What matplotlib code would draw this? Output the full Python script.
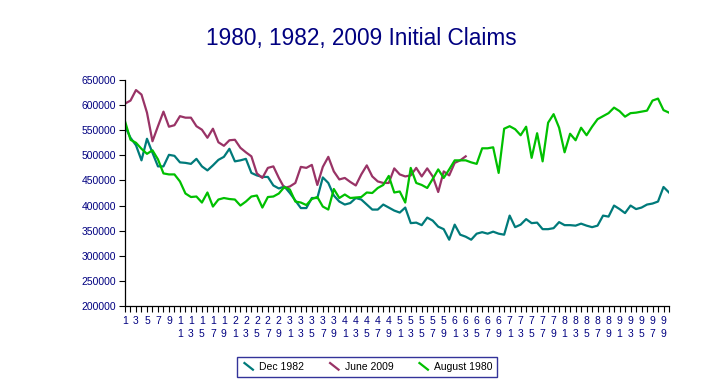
import matplotlib
matplotlib.use("Agg")
import matplotlib.pyplot as plt
from matplotlib.lines import Line2D
from matplotlib.legend_handler import HandlerBase
import numpy as np

# === DATOS (miles) ===
dec_1982 = [558, 535, 520, 490, 533, 505, 478, 478, 501, 499,
            486, 485, 483, 493, 478, 470, 480, 491, 497, 513,
            488, 490, 493, 465, 460, 457, 457, 440, 434, 438,
            425, 410, 395, 395, 415, 415, 456, 445, 420, 408,
            402, 405, 415, 412, 402, 392, 392, 402, 396, 390,
            386, 396, 365, 366, 361, 376, 370, 358, 353, 332,
            362, 342, 338, 332, 344, 347, 344, 348, 344, 342,
            380, 357, 362, 373, 365, 366, 353, 353, 355, 367,
            361, 361, 360, 364, 360, 357, 360, 380, 378, 400,
            393, 385, 400, 393, 396, 402, 404, 408, 437, 426]

june_2009 = [603, 609, 630, 621, 585, 528, 558, 587, 557, 560,
             578, 575, 575, 558, 551, 535, 553, 526, 519, 530,
             531, 515, 506, 498, 464, 455, 475, 478, 455, 435,
             438, 445, 477, 475, 481, 441, 477, 497, 468, 452,
             455, 447, 440, 462, 480, 458, 448, 445, 445, 474,
             462, 458, 460, 475, 458, 474, 458, 427, 468, 460,
             485, 490, 498]

aug_1980 = [568, 531, 525, 513, 503, 510, 492, 464, 462, 462,
            448, 424, 417, 418, 406, 426, 398, 412, 415, 413,
            412, 400, 408, 418, 420, 396, 417, 418, 424, 437,
            432, 408, 406, 401, 413, 417, 398, 392, 433, 415,
            422, 415, 416, 417, 426, 425, 435, 441, 459, 426,
            428, 406, 475, 445, 441, 435, 453, 472, 455, 472,
            490, 490, 490, 486, 483, 514, 514, 516, 465, 553,
            558, 552, 540, 557, 495, 544, 488, 565, 582, 555,
            506, 543, 530, 555, 540, 557, 572, 578, 584, 595,
            588, 577, 584, 585, 587, 589, 609, 613, 590, 585]

series_names = ["Dec 1982", "June 2009", "August 1980"]
colors = ["#007A7A", "#993366", "#00C000"]
navy = "#000080"


# manejador de leyenda con segmento diagonal (estilo Excel)
class DiagonalHandler(HandlerBase):
    def create_artists(self, legend, orig_handle, xdescent, ydescent,
                       width, height, fontsize, trans):
        line = Line2D([-xdescent + width * 0.15, -xdescent + width * 0.85],
                      [-ydescent + height * 1.05, -ydescent - height * 0.05],
                      color=orig_handle.get_color(),
                      linewidth=orig_handle.get_linewidth(),
                      solid_capstyle='butt',
                      transform=trans)
        return [line]


plt.rcParams['font.family'] = ['Liberation Sans', 'DejaVu Sans']

fig = plt.figure(figsize=(7.22, 3.86), dpi=100)
ax = fig.add_axes([125 / 722, 1 - 306 / 386, 544 / 722, 226 / 386])

handles = []
for vals, name, c in zip([dec_1982, june_2009, aug_1980], series_names, colors):
    y = np.array(vals) * 1000
    h, = ax.plot(np.arange(len(y)), y, color=c, linewidth=1.6, label=name)
    handles.append(h)

ax.set_xlim(0, 99)
ax.set_ylim(200000, 650000)
ax.set_yticks(np.arange(200000, 650001, 50000))
ax.set_yticklabels([str(v) for v in range(200000, 650001, 50000)])

# etiquetas x: numeros impares, digitos apilados
n_points = 100
ax.set_xticks(np.arange(0, n_points, 1), minor=True)
major = np.arange(0, n_points, 2)
ax.set_xticks(major)
labels = []
for i in major:
    n = i + 1
    labels.append(str(n) if n < 10 else f"{n // 10}\n{n % 10}")
ax.set_xticklabels(labels, linespacing=1.3)

ax.tick_params(axis='x', which='both', direction='out', length=4, width=0.8,
               colors='black', labelcolor=navy, labelsize=7.5, pad=3.5)
ax.tick_params(axis='y', direction='out', length=4, width=0.8,
               colors='black', labelcolor=navy, labelsize=7.5, pad=2.5)

for s in ['top', 'right']:
    ax.spines[s].set_visible(False)
for s in ['left', 'bottom']:
    ax.spines[s].set_color('black')
    ax.spines[s].set_linewidth(0.9)

fig.text(361 / 722, 1 - 38 / 386, "1980, 1982, 2009 Initial Claims",
         ha='center', va='center', fontsize=16.3, color=navy)

leg = fig.legend(handles=handles, labels=series_names, loc='center',
                 bbox_to_anchor=(367 / 722, 1 - 367 / 386), ncol=3,
                 fontsize=7.5, frameon=True, fancybox=False,
                 handlelength=1.4, handletextpad=0.3, columnspacing=2.2,
                 borderpad=0.45,
                 handler_map={h: DiagonalHandler() for h in handles})
leg.get_frame().set_edgecolor(navy)
leg.get_frame().set_linewidth(1.0)

fig.savefig("out.png", dpi=100)
